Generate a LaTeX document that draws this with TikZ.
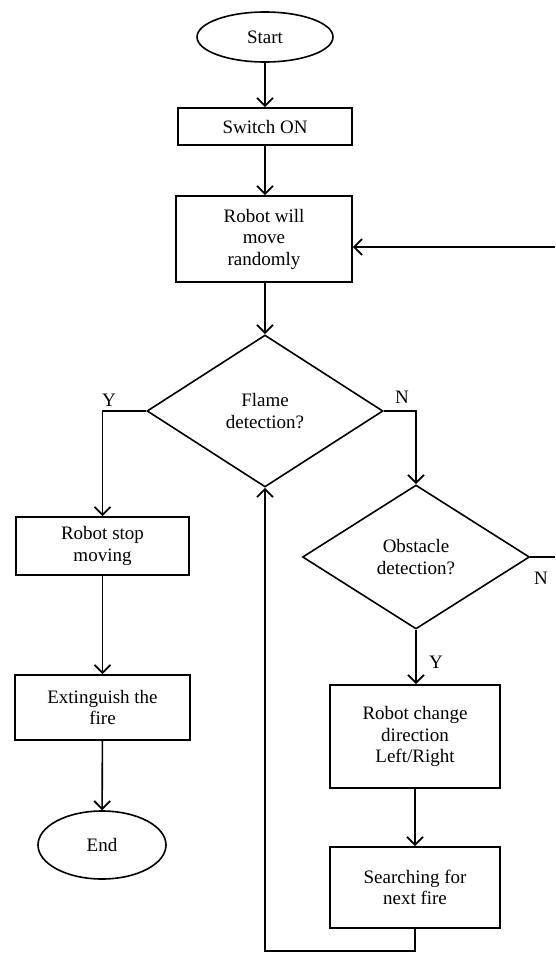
\documentclass[tikz,border=0pt]{standalone}
\usepackage{fontspec}
\setmainfont{Liberation Serif}
\usetikzlibrary{shapes.geometric,arrows.meta}

\begin{document}
\begin{tikzpicture}[x=1pt,y=-1pt,line width=1.6pt,
  >={Straight Barb[length=8pt,width=16pt,line width=1.8pt]},
  every node/.style={font=\fontsize{19}{21.5}\selectfont,align=center,inner sep=0pt},
  terminal/.style={draw,ellipse},
  process/.style={draw,rectangle},
  decision/.style={draw,diamond}]
\useasboundingbox (0,0) rectangle (555,953);
% start and first steps
\node[terminal,minimum width=136,minimum height=50] (start) at (265,37) {Start};
\node[process,minimum width=174,minimum height=37] (switch) at (265,126.5) {Switch ON};
\node[process,minimum width=176,minimum height=86] (move) at (264,239) {Robot will\\move\\randomly};
\node[decision,minimum width=236,minimum height=152] (flame) at (265,411) {Flame\\detection?};
% left branch
\node[process,minimum width=173,minimum height=58] (stop) at (102.5,546) {Robot stop\\moving};
\node[process,minimum width=175,minimum height=65] (fire) at (102.5,707.5) {Extinguish the\\fire};
\node[terminal,minimum width=128,minimum height=68] (end) at (102,845) {End};
% right branch
\node[decision,minimum width=227,minimum height=144] (obst) at (416,557) {Obstacle\\detection?};
\node[process,minimum width=170,minimum height=103] (change) at (415,736.5) {Robot change\\direction\\Left/Right};
\node[process,minimum width=170,minimum height=81] (search) at (415,887.5) {Searching for\\next fire};
% loose ends and labels
\coordinate (edgeA) at (555,557);
\coordinate (edgeB) at (555,247);
\coordinate (loopA) at (415,951);
\coordinate (loopB) at (265,951);
\node (yflame) at (109,400) {Y};
\node (nflame) at (402,397) {N};
\node (nobst) at (541,578) {N};
\node (yobst) at (436,662) {Y};
% connectors
\draw[->] (start) -- (switch);
\draw[->] (switch) -- (switch |- move.north);
\draw[->] (move.south -| flame.north) -- (flame.north);
\draw[->] (flame.west) -| (stop.north);
\draw[->] (stop) -- (fire);
\draw[->] (fire) -- (end);
\draw[->] (flame.east) -| (obst.north);
\draw[->] (obst.south) -- (obst.south |- change.north);
\draw (obst.east) -- (edgeA);
\draw[->] (edgeB) -- (edgeB -| move.east);
\draw[->] (change) -- (search);
\draw[->] (search.south) -- (loopA) -- (loopB) -- (flame.south);
\end{tikzpicture}
\end{document}
